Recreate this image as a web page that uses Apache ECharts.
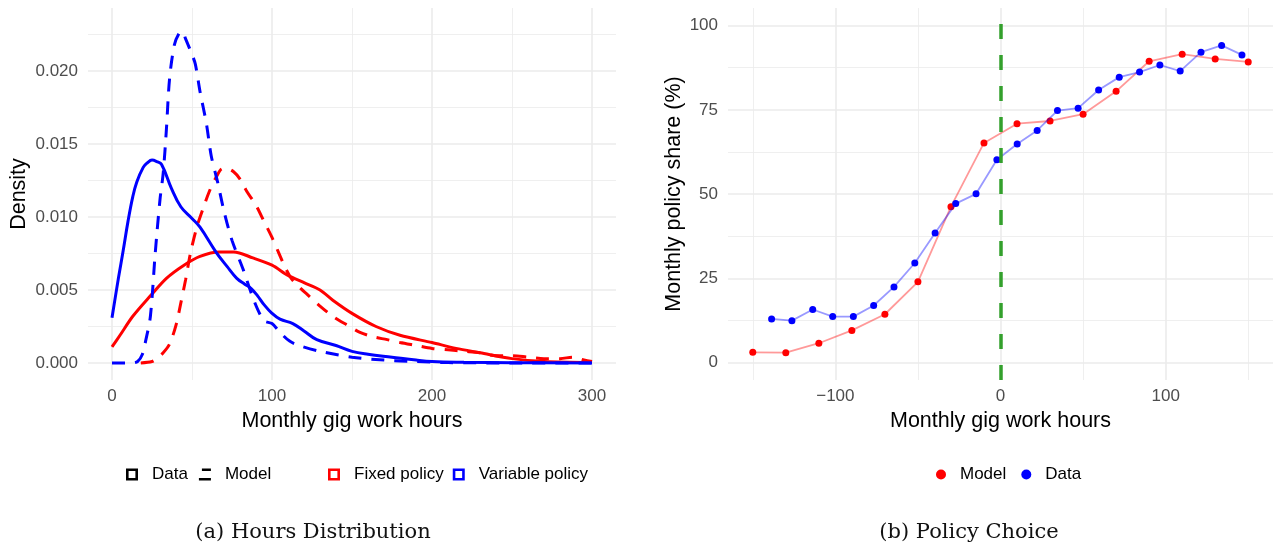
<!DOCTYPE html>
<html><head><meta charset="utf-8">
<script src="https://cdn.jsdelivr.net/npm/echarts@6/dist/echarts.min.js"></script>
<style>html,body{margin:0;padding:0;background:#fff}#c{width:1276px;height:550px}</style>
</head><body><div id="c"></div>
<script>
// ---- Panel (a): density of monthly gig work hours ----
const fixedDataHours = [0,5,13,24,34,45,55,67,76,88,100,110,120,130,138,150,165,180,200,215,230,250,270,300];
const fixedDataDensity = [0.0011,0.0019,0.0032,0.0046,0.0058,0.0067,0.0073,0.0076,0.0076,0.0072,0.0067,0.0060,0.0055,0.0050,0.0043,0.0034,0.0025,0.0019,0.0014,0.0010,0.0007,0.0003,0.0001,0.00003];

const variableDataHours = [0,4,7,10,13,15.5,19.5,22,25,28,31,37,43,50,55,65,72,78,83,87,91,95,100,105,113,120,128,140,150,160,175,190,200,220,250,300];
const variableDataDensity = [0.0031,0.0058,0.0077,0.0097,0.0114,0.0124,0.0134,0.0137,0.0139,0.0138,0.0136,0.0120,0.0107,0.0099,0.0093,0.0076,0.0066,0.0058,0.0054,0.0051,0.0046,0.0040,0.0034,0.0030,0.0027,0.0022,0.0016,0.0012,0.0008,0.0006,0.0004,0.0002,0.0001,0.00005,0.00002,0];

const fixedModelHours = [18,25,28,32,36,40,43,46,49,53,57,61,65,69,72,76,80,84,90,95,100,104,108,112,117,122,130,138,147,155,163,172,180,190,200,210,220,230,240,250,260,270,280,288,295,300];
const fixedModelDensity = [0,0.0001,0.0003,0.0007,0.0013,0.0026,0.0041,0.0057,0.0075,0.0093,0.0106,0.0118,0.0127,0.0133,0.0133,0.0131,0.0126,0.0118,0.0108,0.0097,0.0086,0.0076,0.0066,0.0058,0.0052,0.0047,0.0039,0.0032,0.0026,0.0021,0.0018,0.0016,0.0014,0.0012,0.0010,0.0009,0.0008,0.0007,0.0005,0.0005,0.0004,0.0003,0.0003,0.0004,0.0002,0.0001];

const variableModelHours = [0,12,16,19,21,24,27,30,32,34,36,39,42,44,46,49,52,55,59,62,66,70,75,82,89,95,100,105,111,117,130,150,170,190,210,250,300];
const variableModelDensity = [0,0,0.0001,0.0006,0.0015,0.0032,0.0075,0.0112,0.0130,0.0160,0.0195,0.0218,0.0226,0.0227,0.0222,0.0214,0.0205,0.0186,0.0164,0.0142,0.0124,0.0104,0.0084,0.0064,0.0042,0.0029,0.0027,0.0021,0.0015,0.0012,0.0008,0.0004,0.0002,0.0001,0.00003,0,0];

// ---- Panel (b): monthly policy share ----
const modelHours = [-150,-130,-110,-90,-70,-50,-30,-10,10,30,50,70,90,110,130,150];
const modelShare = [3.1,3.0,5.8,9.6,14.4,24.0,46.3,65.2,70.9,71.7,73.7,80.5,89.4,91.5,90.1,89.2];
const dataHours = [-138.6,-126.3,-113.7,-101.6,-89.1,-76.8,-64.5,-51.9,-39.6,-27.1,-14.8,-2.2,10.1,22.2,34.5,47.0,59.4,71.9,84.2,96.5,108.8,121.4,133.9,146.2];
const dataShare = [13.0,12.5,15.8,13.7,13.7,17.0,22.5,29.6,38.5,47.2,50.1,60.2,64.9,68.9,74.8,75.5,80.9,84.7,86.2,88.3,86.5,92.1,94.1,91.3];

const legendLeftA = ['Data','Model'];
const legendLeftB = ['Fixed policy','Variable policy'];
const legendRight = ['Model','Data'];
const captions = ['(a) Hours Distribution','(b) Policy Choice'];
const xTitle = 'Monthly gig work hours';
const yTitleA = 'Density';
const yTitleB = 'Monthly policy share (%)';

const zip = (a, b) => a.map((v, i) => [v, b[i]]);
const isMult = (v, step) => Math.abs(v / step - Math.round(v / step)) < 1e-6;
const fmtMinus = v => (v < 0 ? '\u2212' + Math.abs(v) : String(v));

const FONT = 'Liberation Sans';
const major = {show: true, showMinLine: false, showMaxLine: false, lineStyle: {color: '#ebebeb', width: 1.6}};
const minor = {show: true, lineStyle: {color: '#ebebeb', width: 0.8}};
const tickLbl = {color: '#4d4d4d', fontSize: 17, fontFamily: FONT};
const nameStyle = {color: '#000', fontSize: 21.5, fontFamily: FONT};

const hollow = 'path://M0,0H12V12H0Z M2.6,2.6V9.4H9.4V2.6Z';
const dashKey = 'path://M3,0H12V2.6H3Z M0,9.4H12V12H0Z';
const legendText = {fontSize: 17, color: '#000', fontFamily: FONT, padding: [0, 0, 0, 9]};

const chart = echarts.init(document.getElementById('c'), null, {renderer: 'canvas'});
chart.setOption({
  animation: false,
  backgroundColor: '#fff',
  textStyle: {fontFamily: FONT},
  title: [
    {text: captions[0], left: 308, top: 517, textAlign: 'center',
     textStyle: {fontFamily: 'DejaVu Serif', fontSize: 21, fontWeight: 'normal', color: '#111'}},
    {text: captions[1], left: 964, top: 517, textAlign: 'center',
     textStyle: {fontFamily: 'DejaVu Serif', fontSize: 21, fontWeight: 'normal', color: '#111'}}
  ],
  legend: [
    {left: 121, top: 461, itemWidth: 12, itemHeight: 12, itemGap: 11, selectedMode: false,
     textStyle: legendText,
     data: [
       {name: legendLeftA[0], icon: hollow, itemStyle: {color: '#000'}},
       {name: legendLeftA[1], icon: dashKey, itemStyle: {color: '#000'}}
     ]},
    {left: 323, top: 461, itemWidth: 12, itemHeight: 12, itemGap: 9, selectedMode: false,
     textStyle: legendText,
     data: [
       {name: legendLeftB[0], icon: hollow, itemStyle: {color: '#ff0000'}},
       {name: legendLeftB[1], icon: hollow, itemStyle: {color: '#0000ff'}}
     ]},
    {left: 931, top: 461, itemWidth: 10, itemHeight: 10, itemGap: 15, selectedMode: false,
     textStyle: legendText,
     data: [
       {name: legendRight[0], icon: 'circle', itemStyle: {color: '#ff0000'}},
       {name: legendRight[1], icon: 'circle', itemStyle: {color: '#0000ff'}}
     ]}
  ],
  grid: [
    {left: 88, top: 8, width: 528, height: 372, containLabel: false},
    {left: 728, top: 8, width: 545, height: 372, containLabel: false}
  ],
  xAxis: [
    {type: 'value', gridIndex: 0, min: -15, max: 315, minInterval: 100, maxInterval: 100,
     axisLine: {show: false}, axisTick: {show: false}, minorTick: {show: false, splitNumber: 2},
     splitLine: major, minorSplitLine: minor,
     axisLabel: Object.assign({margin: 8, formatter: v => isMult(v, 100) ? fmtMinus(v) : ''}, tickLbl),
     name: xTitle, nameLocation: 'middle', nameGap: 29, nameTextStyle: nameStyle},
    {type: 'value', gridIndex: 1, min: -165, max: 165, minInterval: 100, maxInterval: 100,
     axisLine: {show: false}, axisTick: {show: false}, minorTick: {show: false, splitNumber: 2},
     splitLine: major, minorSplitLine: minor,
     axisLabel: Object.assign({margin: 8, formatter: v => isMult(v, 100) ? fmtMinus(v) : ''}, tickLbl),
     name: xTitle, nameLocation: 'middle', nameGap: 29, nameTextStyle: nameStyle}
  ],
  yAxis: [
    {type: 'value', gridIndex: 0, min: -0.001164, max: 0.024315, minInterval: 0.005, maxInterval: 0.005,
     axisLine: {show: false}, axisTick: {show: false}, minorTick: {show: false, splitNumber: 2},
     splitLine: major, minorSplitLine: minor,
     axisLabel: Object.assign({margin: 10, formatter: v => isMult(v, 0.005) ? v.toFixed(3) : ''}, tickLbl),
     name: yTitleA, nameLocation: 'middle', nameGap: 58, nameTextStyle: nameStyle},
    {type: 'value', gridIndex: 1, min: -5.1, max: 105.2, minInterval: 25, maxInterval: 25,
     axisLine: {show: false}, axisTick: {show: false}, minorTick: {show: false, splitNumber: 2},
     splitLine: major, minorSplitLine: minor,
     axisLabel: Object.assign({margin: 10, formatter: v => isMult(v, 25) ? fmtMinus(v) : ''}, tickLbl),
     name: yTitleB, nameLocation: 'middle', nameGap: 43, nameTextStyle: nameStyle}
  ],
  series: [
    // legend-only entries for panel (a)
    {name: legendLeftA[0], type: 'line', xAxisIndex: 0, yAxisIndex: 0, data: [], itemStyle: {color: '#000'}},
    {name: legendLeftA[1], type: 'line', xAxisIndex: 0, yAxisIndex: 0, data: [], itemStyle: {color: '#000'}},
    {name: legendLeftB[0], type: 'line', xAxisIndex: 0, yAxisIndex: 0, data: [], itemStyle: {color: '#ff0000'}},
    {name: legendLeftB[1], type: 'line', xAxisIndex: 0, yAxisIndex: 0, data: [], itemStyle: {color: '#0000ff'}},
    // curves
    {name: 'fixed-model', type: 'line', xAxisIndex: 0, yAxisIndex: 0, data: zip(fixedModelHours, fixedModelDensity),
     symbol: 'none', smooth: 0.3, lineStyle: {color: '#ff0000', width: 3, type: [13, 10]}, z: 2},
    {name: 'fixed-data', type: 'line', xAxisIndex: 0, yAxisIndex: 0, data: zip(fixedDataHours, fixedDataDensity),
     symbol: 'none', smooth: 0.3, lineStyle: {color: '#ff0000', width: 3}, z: 2},
    {name: 'variable-model', type: 'line', xAxisIndex: 0, yAxisIndex: 0, data: zip(variableModelHours, variableModelDensity),
     symbol: 'none', smooth: 0.3, lineStyle: {color: '#0000ff', width: 3, type: [13, 10]}, z: 3},
    {name: 'variable-data', type: 'line', xAxisIndex: 0, yAxisIndex: 0, data: zip(variableDataHours, variableDataDensity),
     symbol: 'none', smooth: 0.4, lineStyle: {color: '#0000ff', width: 3}, z: 3},
    // panel (b)
    {name: legendRight[0], type: 'line', xAxisIndex: 1, yAxisIndex: 1, data: zip(modelHours, modelShare),
     symbol: 'circle', symbolSize: 7, showAllSymbol: true,
     itemStyle: {color: '#ff0000'}, lineStyle: {color: 'rgba(255,0,0,0.4)', width: 1.8}, z: 3},
    {name: legendRight[1], type: 'line', xAxisIndex: 1, yAxisIndex: 1, data: zip(dataHours, dataShare),
     symbol: 'circle', symbolSize: 7, showAllSymbol: true,
     itemStyle: {color: '#0000ff'}, lineStyle: {color: 'rgba(0,0,255,0.4)', width: 1.8}, z: 4,
     markLine: {silent: true, symbol: 'none', label: {show: false}, animation: false,
       lineStyle: {color: '#33a02c', width: 3.5, type: [15, 16]}, data: [{xAxis: 0}]}}
  ]
});
</script>
</body></html>
